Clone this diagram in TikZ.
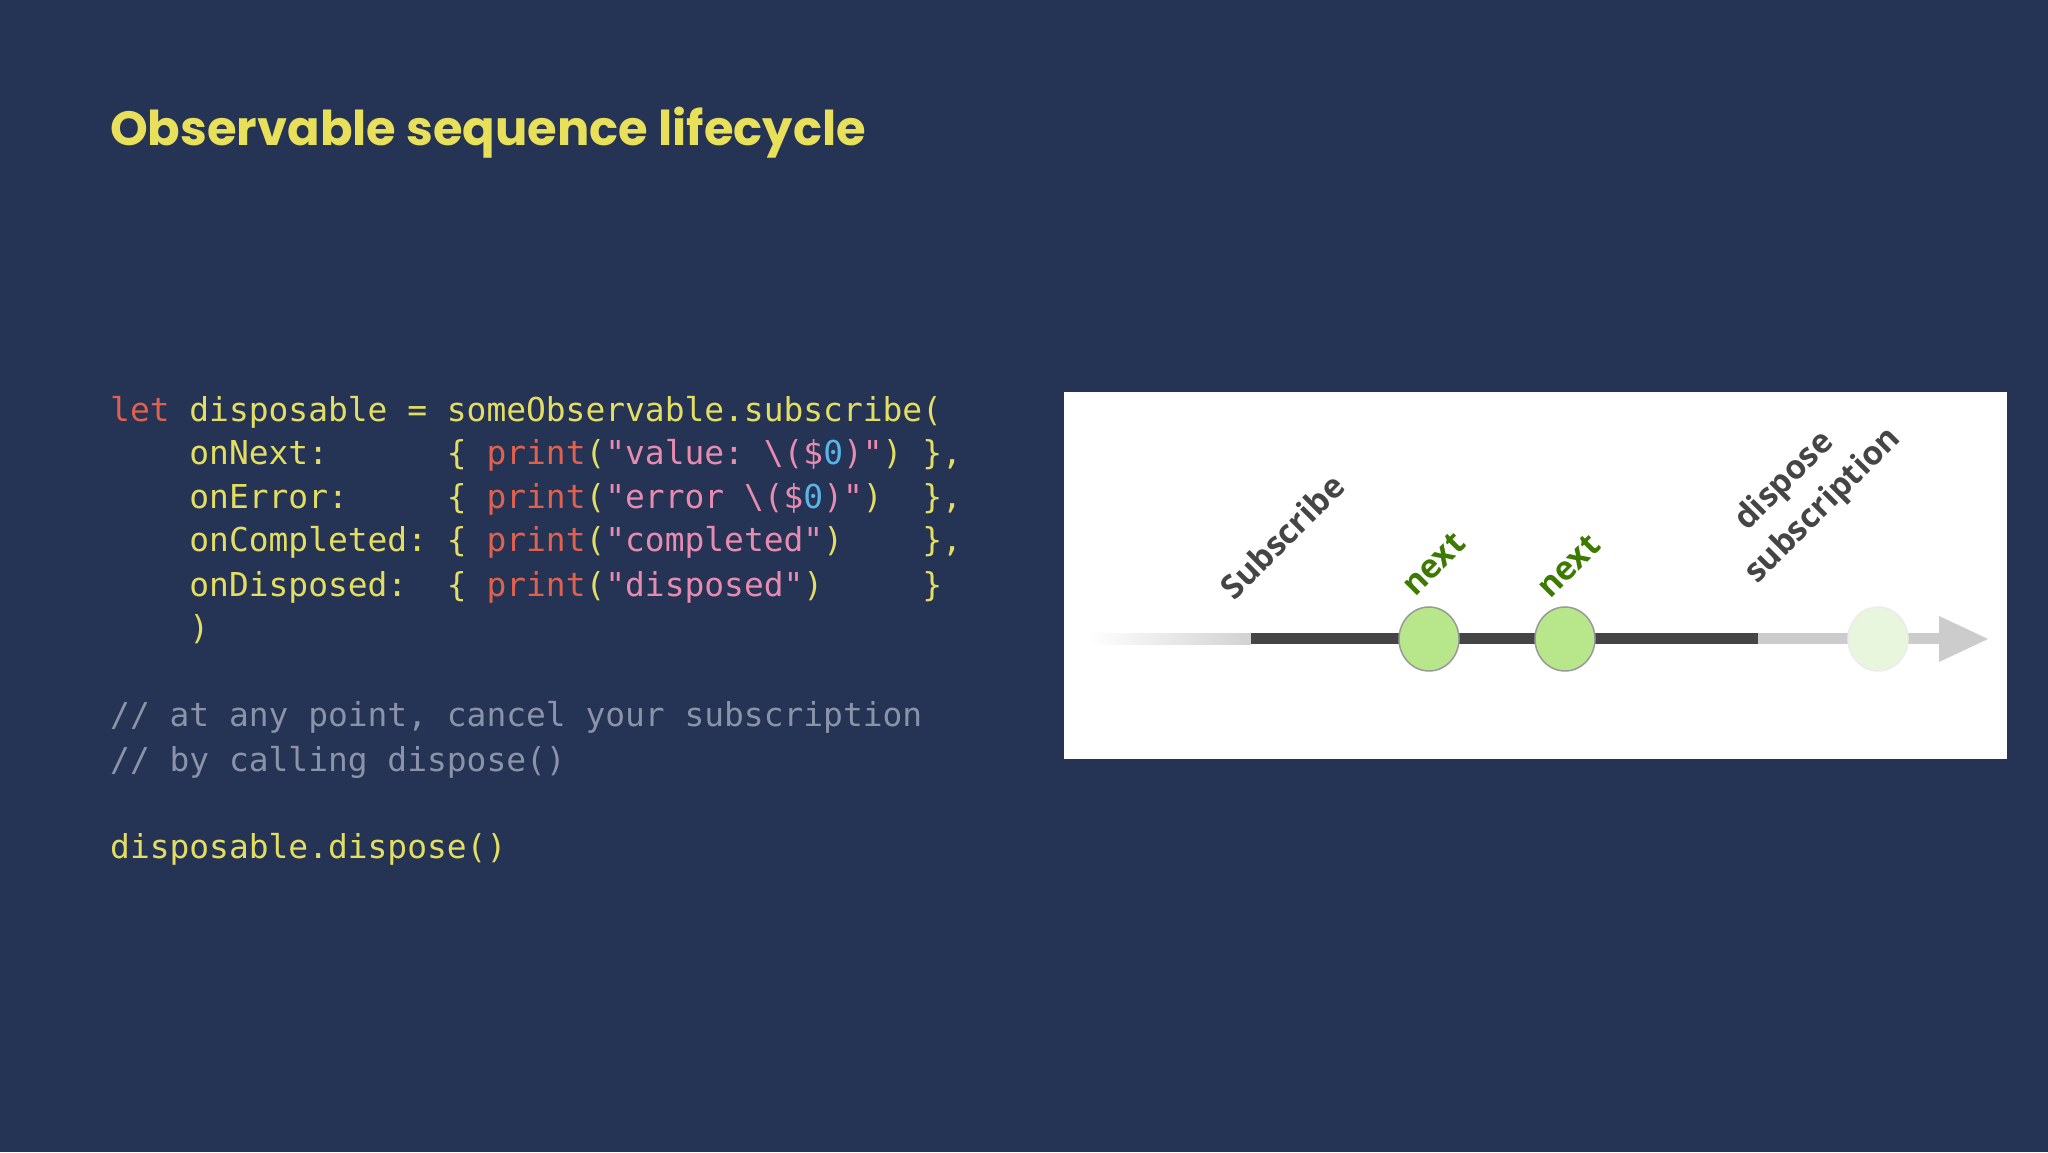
\documentclass[tikz,border=0pt]{standalone}
\usepackage{fontspec}
\setmainfont{Poppins}
\newfontfamily\lblfont{Open Sans}
\setmonofont{DejaVu Sans Mono}
\usetikzlibrary{shapes.geometric}
\definecolor{bg}{HTML}{253354}
\definecolor{ttl}{HTML}{E8E05A}
\definecolor{yl}{HTML}{E3DE62}
\definecolor{rd}{HTML}{E0614E}
\definecolor{pk}{HTML}{E88BB0}
\definecolor{bl}{HTML}{5AB4E8}
\definecolor{cm}{HTML}{8A93A8}
\definecolor{dk}{HTML}{454545}
\definecolor{gn}{HTML}{3D7A00}
\definecolor{ball}{HTML}{B8E68A}
\definecolor{lball}{HTML}{E9F6DE}
\newcommand{\cR}[1]{\textcolor{rd}{#1}}
\newcommand{\cP}[1]{\textcolor{pk}{#1}}
\newcommand{\cB}[1]{\textcolor{bl}{#1}}
\begin{document}
\begin{tikzpicture}[x=1pt,y=1pt,
  code/.style={anchor=base west,inner sep=0pt,font=\ttfamily\fontsize{32.9}{44}\selectfont,text=yl},
  lbl/.style={anchor=base west,inner sep=0pt,rotate=45,font=\lblfont\bfseries\fontsize{33}{34}\selectfont},
  ballst/.style={ellipse,minimum width=60pt,minimum height=64pt,fill=ball,draw=gray!80,line width=1.5pt,inner sep=0pt}]
\fill[bg] (0,0) rectangle (2048,1152);
\useasboundingbox (0,0) rectangle (2048,1152);
\node[anchor=base west,inner sep=0pt,text=ttl,font=\bfseries\fontsize{48}{54}\selectfont] (title) at (110,1006) {Observable sequence lifecycle};
\node[code] (l1) at (110,730) {\cR{let}\ disposable\ =\ someObservable.subscribe(};
\node[code] (l2) at (110,687) {\ \ \ \ onNext:\ \ \ \ \ \ \{\ \cR{print}(\cP{"value:\ \textbackslash(\$}\cB{0}\cP{)"})\ \},};
\node[code] (l3) at (110,643) {\ \ \ \ onError:\ \ \ \ \ \{\ \cR{print}(\cP{"error\ \textbackslash(\$}\cB{0}\cP{)"})\ \ \},};
\node[code] (l4) at (110,600) {\ \ \ \ onCompleted:\ \{\ \cR{print}(\cP{"completed"})\ \ \ \ \},};
\node[code] (l5) at (110,555) {\ \ \ \ onDisposed:\ \ \{\ \cR{print}(\cP{"disposed"})\ \ \ \ \ \}};
\node[code] (l6) at (110,512) {\ \ \ \ )};
\node[code,text=cm] (l7) at (110,425) {//\ at\ any\ point,\ cancel\ your\ subscription};
\node[code,text=cm] (l8) at (110,380) {//\ by\ calling\ dispose()};
\node[code] (l9) at (110,293) {disposable.dispose()};
% diagram
\fill[white] (1064,393) rectangle (2007,760);
\shade[left color=white,right color=gray!35] (1088,507.5) rectangle (1251,518.5);
\fill[dk] (1251,507.5) rectangle (1758,518.5);
\fill[gray!40] (1758,507.5) rectangle (1940,518.5);
\fill[gray!40] (1939,536) -- (1988,513) -- (1939,490) -- cycle;
\node[ballst] (n1) at (1429,513) {};
\node[ballst] (n2) at (1565,513) {};
\node[ballst,fill=lball,draw=gray!15] (n3) at (1878,513) {};
\node[lbl,text=dk] (s) at (1234,550) {Subscribe};
\node[lbl,text=gn] (x1) at (1415,554) {next};
\node[lbl,text=gn] (x2) at (1550,552) {next};
\node[lbl,text=dk] (d1) at (1747,620) {dispose};
\node[lbl,text=dk] (d2) at (1757,567) {subscription};
\end{tikzpicture}
\end{document}
